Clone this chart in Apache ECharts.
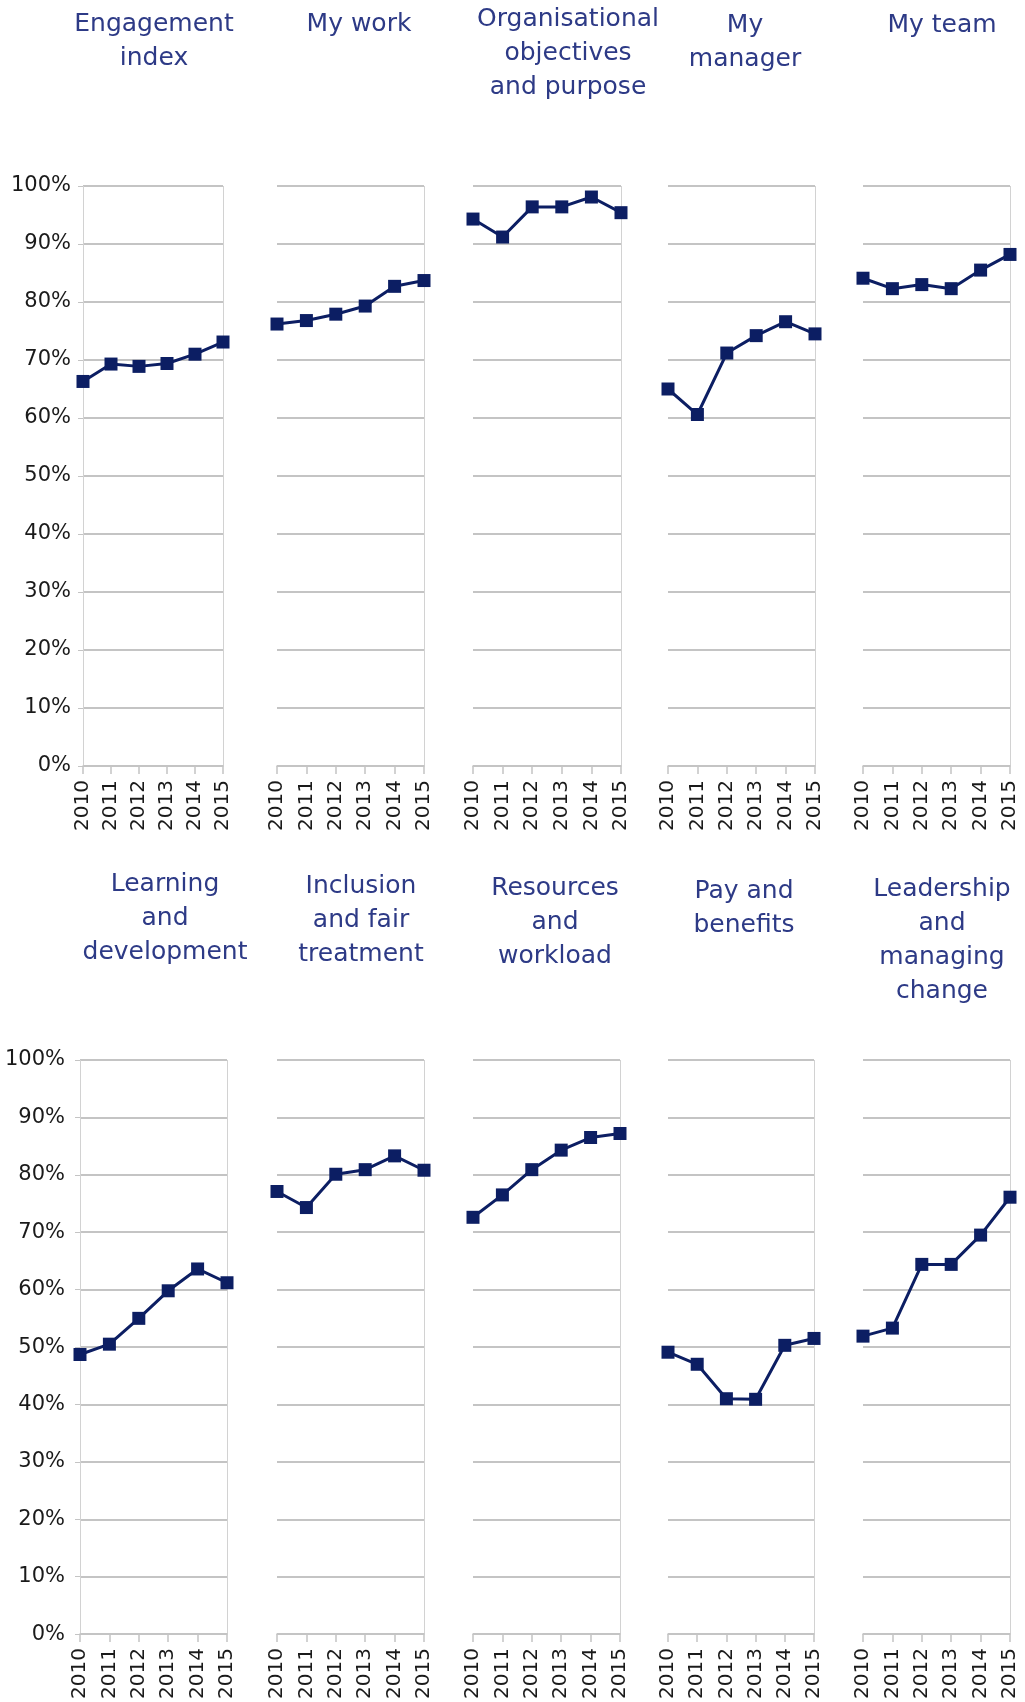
<!DOCTYPE html>
<html>
<head>
<meta charset="utf-8">
<script src="https://cdn.jsdelivr.net/npm/echarts@6/dist/echarts.min.js"></script>
<style>
  html, body { margin: 0; padding: 0; background: #fff; }
  #survey { width: 1025px; height: 1702px; }
</style>
</head>
<body>
<div id="survey"></div>
<script>
// data
const years = ['2010', '2011', '2012', '2013', '2014', '2015'];
const panelTitles = [
  'Engagement\nindex', 'My work', 'Organisational\nobjectives\nand purpose', 'My\nmanager', 'My team',
  'Learning\nand\ndevelopment', 'Inclusion\nand fair\ntreatment', 'Resources\nand\nworkload', 'Pay and\nbenefits', 'Leadership\nand\nmanaging\nchange'
];
const engagementIndex = [66.3, 69.3, 68.9, 69.4, 71.0, 73.1];
const myWork = [76.2, 76.8, 77.9, 79.3, 82.7, 83.7];
const orgObjectives = [94.3, 91.2, 96.4, 96.4, 98.1, 95.4];
const myManager = [65.0, 60.6, 71.2, 74.2, 76.6, 74.5];
const myTeam = [84.1, 82.3, 83.0, 82.3, 85.5, 88.2];
const learningDev = [48.7, 50.5, 55.0, 59.8, 63.6, 61.2];
const inclusionFair = [77.1, 74.3, 80.1, 80.9, 83.3, 80.8];
const resourcesWorkload = [72.6, 76.5, 80.9, 84.3, 86.5, 87.2];
const payBenefits = [49.1, 47.0, 41.0, 40.9, 50.3, 51.5];
const leadershipChange = [51.9, 53.3, 64.4, 64.4, 69.5, 76.1];
const panelValues = [engagementIndex, myWork, orgObjectives, myManager, myTeam,
  learningDev, inclusionFair, resourcesWorkload, payBenefits, leadershipChange];

// layout (pixels)
const rowTop = [186, 1060];
const rowHeight = [580, 579];
const colLeft = [[83, 277, 473, 668, 863], [80, 277, 473, 668, 863]];
const colWidth = [[140, 147, 148, 147, 147], [147, 147, 147, 146, 147]];
const titleX = [[149, 354, 563, 740, 937], [160, 356, 550, 739, 937]];
const titleTop = [[2, 2, -3, 3, 3], [862, 864, 866, 869, 867]];
const yLabelMargin = [12, 15];

const navy = '#0c1e63';
const gridGray = '#c4c4c4';
const font = 'DejaVu Sans';

let chart = echarts.init(document.getElementById('survey'));

let grid = [], xAxis = [], yAxis = [], series = [], title = [];
panelValues.forEach(function (vals, i) {
  let row = Math.floor(i / 5), col = i % 5;
  grid.push({
    left: colLeft[row][col], top: rowTop[row],
    width: colWidth[row][col], height: rowHeight[row]
  });
  title.push({
    text: panelTitles[i],
    left: titleX[row][col], top: titleTop[row][col],
    textAlign: 'center',
    textStyle: { fontFamily: font, fontSize: 25, fontWeight: 'normal', color: '#2d3a86', lineHeight: 34 }
  });
  xAxis.push({
    type: 'category', gridIndex: i, data: years, boundaryGap: false,
    axisLine: { show: true, lineStyle: { color: gridGray, width: 1.5 } },
    axisTick: { show: true, length: 8, lineStyle: { color: gridGray, width: 1.5 } },
    axisLabel: { rotate: 90, interval: 0, margin: 14, fontFamily: font, fontSize: 20, color: '#1a1a1a' },
    splitLine: {
      show: true,
      interval: function (idx) { return idx === 5 || (col === 0 && idx === 0); },
      lineStyle: { color: '#d2d2d2', width: 1 }
    }
  });
  yAxis.push({
    type: 'value', gridIndex: i, min: 0, max: 100, interval: 10,
    axisLine: { show: false },
    axisTick: { show: col === 0, length: 5, lineStyle: { color: gridGray } },
    axisLabel: {
      show: col === 0, formatter: '{value}%', margin: yLabelMargin[row],
      fontFamily: font, fontSize: 21, color: '#1a1a1a'
    },
    splitLine: { lineStyle: { color: gridGray, width: 2 } }
  });
  series.push({
    type: 'line', xAxisIndex: i, yAxisIndex: i, data: vals,
    symbol: 'rect', symbolSize: 13,
    lineStyle: { color: navy, width: 3 },
    itemStyle: { color: navy },
    animation: false
  });
});

chart.setOption({
  backgroundColor: '#fff',
  animation: false,
  title: title,
  grid: grid,
  xAxis: xAxis,
  yAxis: yAxis,
  series: series
});
</script>
</body>
</html>
